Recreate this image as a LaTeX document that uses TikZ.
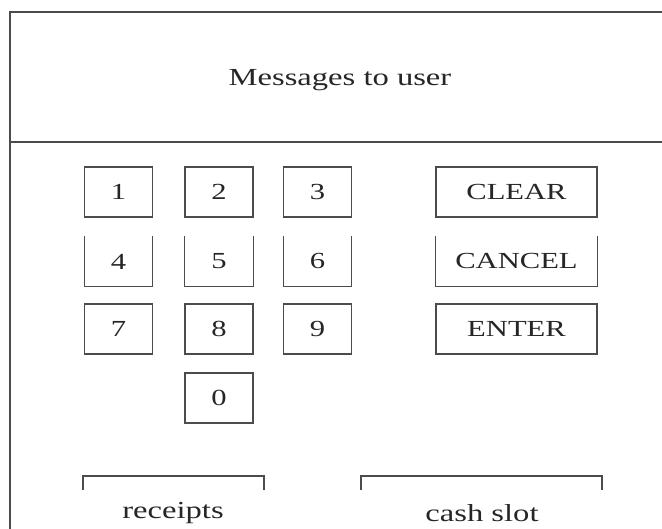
\documentclass[tikz,border=0pt]{standalone}
\usepackage{fontspec}
\setmainfont{Liberation Serif}
\begin{document}
\begin{tikzpicture}[x=1pt,y=-1pt,
  frame/.style={draw=black!70,line width=1.3pt},
  key/.style={draw=black!70,line width=1.2pt,minimum width=68pt,minimum height=50pt,inner sep=0pt,font=\fontsize{23}{26}\selectfont,text=black!85},
  openkey/.style={minimum width=68pt,minimum height=50pt,inner sep=0pt,font=\fontsize{23}{26}\selectfont,text=black!85},
  side/.style={draw=black!70,line width=1.2pt},
  lbl/.style={font=\fontsize{24.5}{28}\selectfont,text=black!85,inner sep=0pt}]
\useasboundingbox (0,0) rectangle (662,529);
\clip (0,0) rectangle (662,529);
\fill[white] (0,0) rectangle (662,529);
% outer panel
\draw[frame] (10,540) -- (10,12) -- (670,12);
\draw[frame] (10,142) -- (670,142);
\node[lbl] (msg) at (340,80) {\scalebox{1.33}[1]{Messages to user}};
% row 1
\node[key] (k1) at (118.5,192) {\scalebox{1.33}[1]{1}};
\node[key] (k2) at (219,192) {\scalebox{1.33}[1]{2}};
\node[key] (k3) at (317.5,192) {\scalebox{1.33}[1]{3}};
\node[key,minimum width=161pt] (clear) at (516.5,192) {\scalebox{1.33}[1]{CLEAR}};
% row 2 (open top)
\node[openkey] (k4) at (118.5,261.5) {\scalebox{1.33}[1]{4}};
\node[openkey] (k5) at (219,261.5) {\scalebox{1.33}[1]{5}};
\node[openkey] (k6) at (317.5,261.5) {\scalebox{1.33}[1]{6}};
\node[openkey,minimum width=161pt] (cancel) at (516.5,261.5) {\scalebox{1.33}[1]{CANCEL}};
\foreach \n in {k4,k5,k6,cancel}{
  \draw[side] (\n.north west) -- (\n.south west) -- (\n.south east) -- (\n.north east);
}
% row 3
\node[key] (k7) at (118.5,329) {\scalebox{1.33}[1]{7}};
\node[key] (k8) at (219,329) {\scalebox{1.33}[1]{8}};
\node[key] (k9) at (317.5,329) {\scalebox{1.33}[1]{9}};
\node[key,minimum width=161pt] (enter) at (516.5,329) {\scalebox{1.33}[1]{ENTER}};
% row 4
\node[key] (k0) at (219,398) {\scalebox{1.33}[1]{0}};
% slots
\node[lbl] (rec) at (173,513) {\scalebox{1.33}[1]{receipts}};
\node[lbl] (cash) at (482,513) {\scalebox{1.33}[1]{cash slot}};
\draw[side] (83,490) -- (83,476) -- (264,476) -- (264,490);
\draw[side] (361,490) -- (361,476) -- (602,476) -- (602,490);
\end{tikzpicture}
\end{document}
